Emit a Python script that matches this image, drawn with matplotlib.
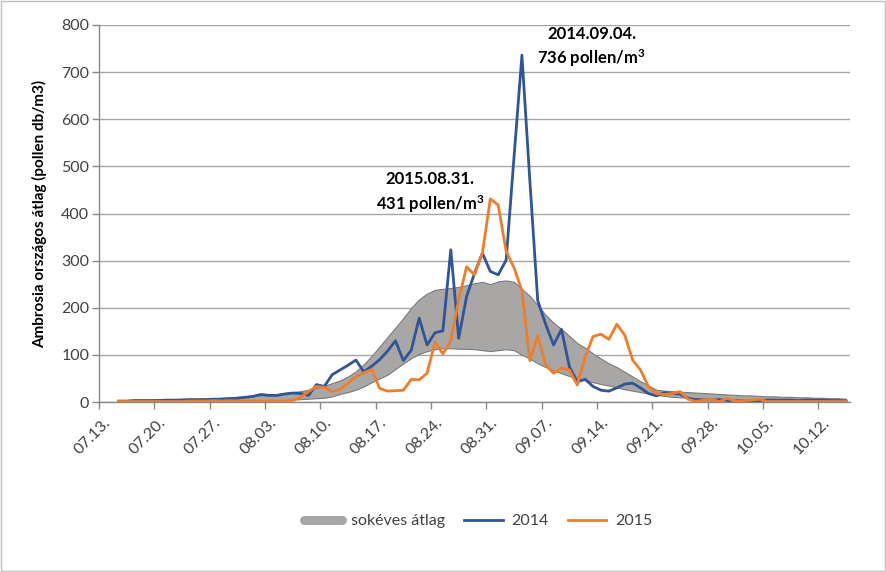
import numpy as np
import pandas as pd
import matplotlib
matplotlib.use("Agg")
import matplotlib.pyplot as plt
from matplotlib.lines import Line2D
from matplotlib.patches import Rectangle

nan = np.nan
days = pd.date_range("2015-07-13", "2015-10-15", freq="D")
tick_labels = ['07.13.', '07.20.', '07.27.', '08.03.', '08.10.', '08.17.', '08.24.',
               '08.31.', '09.07.', '09.14.', '09.21.', '09.28.', '10.05.', '10.12.']

avg_upper = [nan, nan, 4, 4, 5, 5, 5, 6, 6, 6,
             7, 7, 7, 8, 8, 9, 10, 11, 12, 13,
             14, 15, 17, 19, 21, 23, 26, 30, 34, 40,
             46, 54, 65, 80, 98, 118, 138, 158, 178, 200,
             218, 230, 238, 240, 242, 244, 248, 252, 255, 250,
             256, 258, 255, 240, 225, 205, 185, 168, 155, 140,
             125, 115, 103, 92, 82, 74, 64, 54, 44, 35,
             26, 24, 23, 22, 21, 20, 19, 18, 17, 16,
             15, 14, 14, 13, 12, 12, 11, 11, 10, 10,
             9, 9, 8, 8, 7]

avg_lower = [nan, nan, 0, 0, 0, 0, 0, 1, 1, 1,
             1, 1, 1, 1, 1, 1, 2, 2, 2, 2,
             2, 3, 3, 4, 5, 6, 7, 8, 9, 12,
             17, 21, 26, 33, 42, 50, 58, 70, 82, 93,
             102, 108, 112, 114, 114, 113, 113, 112, 110, 108,
             110, 112, 110, 100, 92, 82, 74, 67, 61, 55,
             50, 46, 42, 38, 35, 31, 27, 24, 21, 18,
             15, 13, 11, 10, 9, 8, 7, 6, 5, 5,
             4, 4, 3, 3, 3, 2, 2, 2, 2, 2,
             1, 1, 1, 1, 1]

pollen_2014 = [nan, nan, 2, 2, 3, 3, 3, 3, 4, 4,
               4, 5, 5, 5, 6, 6, 7, 8, 10, 12,
               16, 14, 14, 17, 19, 18, 14, 37, 33, 58,
               68, 78, 89, 64, 76, 90, 108, 130, 88, 110,
               178, 121, 147, 151, 323, 135, 224, 273, 316, 277,
               270, 301, 520, 736, 470, 215, 165, 121, 154, 75,
               43, 48, 33, 25, 23, 30, 38, 40, 30, 18,
               13, 20, 18, 17, 8, 5, 4, 4, 5, 3,
               2, 3, 2, 3, 4, 4, 4, 4, 3, 4,
               4, 4, 3, 3, 2]

pollen_2015 = [nan, nan, 1, 1, 1, 1, 1, 1, 1, 1,
               1, 2, 2, 2, 3, 2, 3, 2, 2, 2,
               2, 2, 2, 2, 3, 10, 22, 33, 31, 22,
               27, 40, 54, 62, 69, 29, 23, 24, 25, 48,
               47, 61, 127, 102, 130, 217, 287, 270, 316, 431,
               418, 320, 285, 236, 88, 140, 79, 61, 72, 68,
               36, 96, 139, 144, 133, 165, 142, 89, 68, 33,
               18, 16, 18, 22, 6, 1, 4, 5, 1, 8,
               1, 3, 4, 6, 1, 1, 1, 1, 1, 1,
               1, 1, 1, 1, 1]

series_names = ['sokéves átlag', '2014', '2015']
annot_2015 = "2015.08.31.\n431 pollen/m$^3$"
annot_2014 = "2014.09.04.\n736 pollen/m$^3$"

plt.rcParams['font.family'] = ['Lato', 'DejaVu Sans']
plt.rcParams['mathtext.fontset'] = 'custom'
plt.rcParams['mathtext.rm'] = 'Lato:bold'
plt.rcParams['mathtext.default'] = 'rm'

x = np.arange(len(days))
fig = plt.figure(figsize=(8.87, 5.72), dpi=100)
ax = fig.add_axes([99/887, 1-402/572, (850-99)/887, (402-25)/572])

grey_fill = '#a9a6a6'
blue = '#2f5597'
orange = '#f07d2a'

ax.fill_between(x, avg_lower, avg_upper, facecolor=grey_fill, edgecolor='#7a7a7a',
                linewidth=0.8, zorder=2)
ax.plot(x, pollen_2014, color=blue, lw=2.0, zorder=3, solid_joinstyle='round')
ax.plot(x, pollen_2015, color=orange, lw=2.0, zorder=4, solid_joinstyle='round')

ax.set_xlim(-0.5, len(days) - 0.5)
ax.set_ylim(0, 800)
ax.set_yticks(np.arange(0, 801, 100))
ax.yaxis.grid(True, color='#a6a6a6', lw=1.0, zorder=0)
ax.set_axisbelow(True)

ax.set_xticks(np.arange(0, len(days), 7))
ax.set_xticklabels(tick_labels, rotation=45, ha='right', rotation_mode='anchor')
ax.set_xticks(np.arange(-0.5, len(days), 7), minor=True)
ax.tick_params(axis='x', which='major', length=0, pad=10, labelsize=11.5, colors='#404040')
ax.tick_params(axis='x', which='minor', length=5, color='#888888', width=1)
ax.tick_params(axis='y', length=5, color='#888888', width=1, labelsize=11.5,
               labelcolor='#404040', pad=2)

for s in ['top', 'right']:
    ax.spines[s].set_visible(False)
for s in ['left', 'bottom']:
    ax.spines[s].set_color('#888888')
    ax.spines[s].set_linewidth(1.0)

ax.set_ylabel('Ambrosia országos átlag (pollen db/m3)', fontsize=11, fontweight='bold',
              color='#000000', labelpad=10)

ax.text(41.4, 443, annot_2015, ha='center', va='center', fontsize=12, fontweight='bold',
        linespacing=1.35, zorder=5)
ax.text(61.8, 752, annot_2014, ha='center', va='center', fontsize=12, fontweight='bold',
        linespacing=1.35, zorder=5)

handles = [Line2D([], [], color=grey_fill, lw=6.5, solid_capstyle='round'),
           Line2D([], [], color=blue, lw=2),
           Line2D([], [], color=orange, lw=2)]
fig.legend(handles, series_names, loc='center', bbox_to_anchor=(478/887, 1-521/572),
           ncol=3, frameon=False, fontsize=11.5, handlelength=2.4, handletextpad=0.55,
           columnspacing=1.2, labelcolor='#404040')

fig.patches.append(Rectangle((0.0015, 0.002), 0.996, 0.996, transform=fig.transFigure,
                             fill=False, edgecolor='#bfbfbf', lw=1))

fig.savefig('out.png', dpi=100)
